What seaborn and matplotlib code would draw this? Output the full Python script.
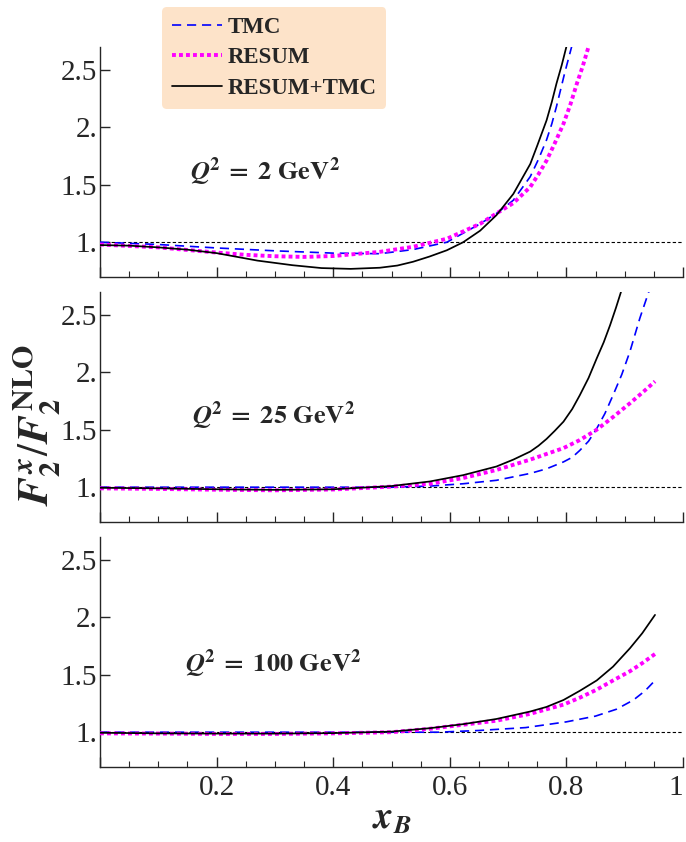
import numpy as np
import pandas as pd
import seaborn as sns
import matplotlib
matplotlib.use("Agg")
from matplotlib import pyplot as plt

# ---- data ----
# panel 1: Q^2 = 2 GeV^2
x_tmc_2 = [0.0, 0.1, 0.2, 0.3, 0.4, 0.48, 0.537, 0.595, 0.652, 0.68, 0.709, 0.738, 0.752, 0.766, 0.775, 0.783, 0.797, 0.809]
y_tmc_2 = [1.0, 0.98, 0.95, 0.925, 0.905, 0.90, 0.936, 1.0, 1.16, 1.25, 1.365, 1.57, 1.72, 1.89, 2.03, 2.18, 2.47, 2.70]
x_res_2 = [0.0, 0.1, 0.2, 0.25, 0.3, 0.35, 0.4, 0.48, 0.537, 0.595, 0.652, 0.68, 0.709, 0.738, 0.752, 0.766, 0.78, 0.795, 0.807, 0.818, 0.828, 0.838]
y_res_2 = [0.98, 0.955, 0.91, 0.89, 0.878, 0.872, 0.88, 0.916, 0.96, 1.03, 1.16, 1.25, 1.34, 1.48, 1.59, 1.71, 1.86, 2.03, 2.20, 2.38, 2.53, 2.70]
x_both_2 = [0.0, 0.05, 0.1, 0.15, 0.2, 0.27, 0.33, 0.38, 0.43, 0.48, 0.51, 0.537, 0.565, 0.595, 0.623, 0.652, 0.68, 0.709, 0.738, 0.75, 0.766, 0.775, 0.783, 0.792, 0.80]
y_both_2 = [0.975, 0.97, 0.955, 0.935, 0.905, 0.84, 0.80, 0.775, 0.768, 0.778, 0.797, 0.83, 0.875, 0.93, 1.0, 1.10, 1.235, 1.42, 1.68, 1.84, 2.06, 2.22, 2.38, 2.54, 2.70]

# panel 2: Q^2 = 25 GeV^2
x_tmc_25 = [0.0, 0.2, 0.4, 0.5, 0.566, 0.623, 0.68, 0.738, 0.766, 0.795, 0.81, 0.823, 0.838, 0.852, 0.866, 0.88, 0.895, 0.909, 0.926, 0.942]
y_tmc_25 = [1.0, 1.0, 1.0, 1.0, 1.01, 1.03, 1.06, 1.12, 1.16, 1.22, 1.26, 1.32, 1.40, 1.51, 1.64, 1.80, 1.98, 2.18, 2.47, 2.71]
x_res_25 = [0.0, 0.1, 0.2, 0.3, 0.4, 0.5, 0.566, 0.623, 0.68, 0.738, 0.795, 0.823, 0.852, 0.88, 0.909, 0.932, 0.952]
y_res_25 = [0.99, 0.985, 0.978, 0.973, 0.98, 1.005, 1.03, 1.08, 1.15, 1.24, 1.34, 1.41, 1.50, 1.61, 1.73, 1.83, 1.92]
x_both_25 = [0.0, 0.1, 0.2, 0.3, 0.4, 0.5, 0.566, 0.623, 0.68, 0.709, 0.738, 0.752, 0.766, 0.78, 0.795, 0.81, 0.823, 0.838, 0.852, 0.864, 0.875, 0.885, 0.895]
y_both_25 = [0.995, 0.99, 0.982, 0.977, 0.982, 1.01, 1.05, 1.105, 1.18, 1.24, 1.31, 1.36, 1.42, 1.49, 1.57, 1.68, 1.80, 1.95, 2.12, 2.26, 2.41, 2.56, 2.72]

# panel 3: Q^2 = 100 GeV^2
x_tmc_100 = [0.0, 0.2, 0.4, 0.58, 0.65, 0.73, 0.80, 0.85, 0.886, 0.915, 0.935, 0.952]
y_tmc_100 = [1.0, 1.0, 1.0, 1.0, 1.015, 1.04, 1.09, 1.14, 1.20, 1.28, 1.36, 1.45]
x_res_100 = [0.0, 0.1, 0.2, 0.3, 0.4, 0.5, 0.566, 0.623, 0.68, 0.738, 0.795, 0.823, 0.852, 0.88, 0.909, 0.93, 0.952]
y_res_100 = [0.99, 0.988, 0.985, 0.985, 0.99, 1.0, 1.03, 1.065, 1.10, 1.16, 1.24, 1.30, 1.37, 1.45, 1.53, 1.60, 1.68]
x_both_100 = [0.0, 0.1, 0.2, 0.3, 0.4, 0.5, 0.566, 0.623, 0.68, 0.738, 0.766, 0.795, 0.823, 0.852, 0.88, 0.909, 0.93, 0.952]
y_both_100 = [0.995, 0.99, 0.988, 0.988, 0.992, 1.005, 1.035, 1.07, 1.115, 1.18, 1.22, 1.28, 1.36, 1.45, 1.57, 1.73, 1.86, 2.02]

panel_labels = ["2", "25", "100"]
series_names = ["TMC", "RESUM", "RESUM+TMC"]
y_ticks = [1.0, 1.5, 2.0, 2.5]
y_ticklabels = ["1.", "1.5", "2.", "2.5"]
x_ticks = [0.0, 0.2, 0.4, 0.6, 0.8, 1.0]
x_ticklabels = ["", "0.2", "0.4", "0.6", "0.8", "1"]

panels = [
    [(x_tmc_2, y_tmc_2), (x_res_2, y_res_2), (x_both_2, y_both_2)],
    [(x_tmc_25, y_tmc_25), (x_res_25, y_res_25), (x_both_25, y_both_25)],
    [(x_tmc_100, y_tmc_100), (x_res_100, y_res_100), (x_both_100, y_both_100)],
]

sns.set_style("ticks")
plt.rcParams["font.family"] = ["Liberation Serif", "DejaVu Serif"]
plt.rcParams["mathtext.fontset"] = "stix"

styles = [
    dict(color="#0000ff", lw=1.2, ls=(0, (5.5, 3.5))),
    dict(color="#ff00ff", lw=2.8, ls=(0, (1.0, 0.8))),
    dict(color="black", lw=1.25, ls="-"),
]

fig = plt.figure(figsize=(6.86, 8.42), dpi=100)
left, width, height = 100 / 686, 583 / 686, 230 / 842
bottoms = [1 - 276.7 / 842, 1 - 521.7 / 842, 1 - 766.7 / 842]
text_y = [1.61, 1.62, 1.60]
text_x = [0.155, 0.158, 0.146]

axes = []
for i, curves in enumerate(panels):
    ax = fig.add_axes([left, bottoms[i], width, height])
    axes.append(ax)
    ax.axhline(1.0, color="black", lw=0.8, ls=(0, (3, 2)), zorder=1)
    for (xs, ys), name, st in zip(curves, series_names, styles):
        df = pd.DataFrame({"x": xs, "y": ys})
        sns.lineplot(data=df, x="x", y="y", ax=ax, color=st["color"], linewidth=st["lw"],
                     linestyle=st["ls"], label=name, zorder=3)
    if ax.get_legend() is not None:
        ax.get_legend().remove()
    ax.set_xlim(0, 1.0)
    ax.set_ylim(0.7, 2.7)
    ax.set_xlabel("")
    ax.set_ylabel("")
    sns.despine(ax=ax)
    for s in ["left", "bottom"]:
        ax.spines[s].set_linewidth(1.0)
    ax.set_yticks(y_ticks)
    ax.set_yticklabels(y_ticklabels)
    ax.set_xticks(x_ticks)
    ax.set_xticks(np.arange(0, 1.001, 0.05), minor=True)
    if i == 2:
        ax.set_xticklabels(x_ticklabels)
        ax.get_xticklabels()[-1].set_horizontalalignment("right")
    else:
        ax.set_xticklabels([])
    ax.tick_params(axis="both", which="major", direction="in", labelsize=21, length=7, width=1.0)
    ax.tick_params(axis="x", which="minor", direction="in", length=4, width=0.8)
    ax.tick_params(axis="y", which="major", pad=2)
    ax.tick_params(axis="x", which="major", pad=6)
    ax.text(text_x[i], text_y[i],
            r"$\mathbfit{Q}^{\mathbf{2}}\mathbf{\;=\;" + panel_labels[i] + r"\ GeV}^{\mathbf{2}}$",
            fontsize=19, va="center", ha="left", transform=ax.transData)

handles, labels = axes[0].get_legend_handles_labels()
leg = fig.legend(handles, labels, loc="upper left", bbox_to_anchor=(162 / 686, 1 - 7 / 842),
                 borderaxespad=0, frameon=True, fancybox=True, handlelength=2.2, handletextpad=0.25,
                 borderpad=0.42, labelspacing=0.42, prop={"weight": "bold", "size": 16.5})
frame = leg.get_frame()
frame.set_facecolor("#fde3c9")
frame.set_edgecolor("none")
frame.set_alpha(1)

fig.text(37 / 686, 1 - 425 / 842, r"$\mathbfit{F}_{\mathbf{2}}^{\,\mathbfit{x}}/\mathbfit{F}_{\mathbf{2}}^{\,\mathbf{NLO}}$",
         rotation=90, fontsize=31, ha="center", va="center")
fig.text(392 / 686, 1 - 820 / 842, r"$\mathbfit{x}_{\mathbfit{B}}$", fontsize=27, ha="center", va="center")

fig.savefig("out.png", dpi=100)
